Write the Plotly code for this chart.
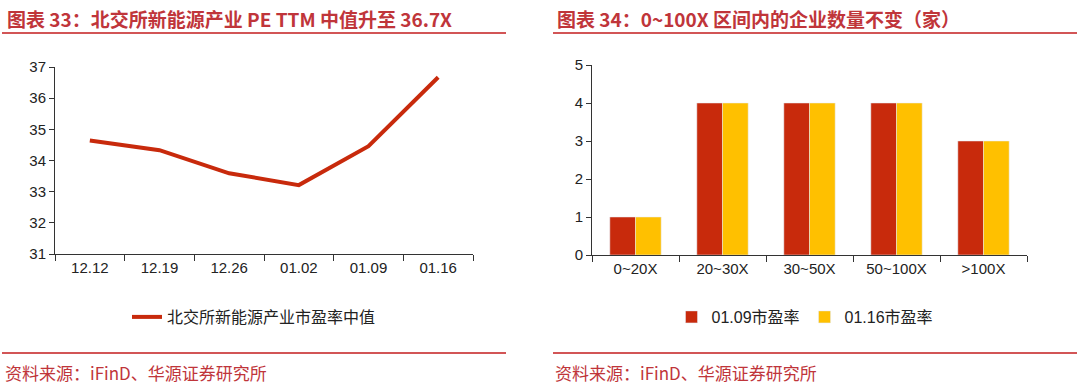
import plotly.graph_objects as go

dates = ["12.12", "12.19", "12.26", "01.02", "01.09", "01.16"]
pe_median = [34.64, 34.33, 33.59, 33.21, 34.46, 36.67]

bins = ["0~20X", "20~30X", "30~50X", "50~100X", ">100X"]
count_0109 = [1, 4, 4, 4, 3]
count_0116 = [1, 4, 4, 4, 3]

W, H = 1080, 388
RED = "#C82A0C"
YEL = "#FFC000"
TRED = "#C0353A"
LRED = "#D25556"
FONT = "Liberation Sans, Arial, Noto Sans CJK SC, sans-serif"
CJK = "Noto Sans CJK SC"

def px(x):
    return x / W

def py(y):
    return 1 - y / H

fig = go.Figure()
fig.add_trace(go.Scatter(x=dates, y=pe_median, mode="lines", name="北交所新能源产业市盈率中值",
                         line=dict(color=RED, width=4), xaxis="x", yaxis="y", legend="legend"))
fig.add_trace(go.Bar(x=bins, y=count_0109, name="01.09市盈率", marker_color=RED,
                     xaxis="x2", yaxis="y2", legend="legend2"))
fig.add_trace(go.Bar(x=bins, y=count_0116, name="01.16市盈率", marker_color=YEL,
                     xaxis="x2", yaxis="y2", legend="legend2"))

axis_common = dict(showgrid=False, zeroline=False, showline=True, linecolor="#333333", linewidth=1,
                   ticks="outside", tickcolor="#333333", automargin=False,
                   tickfont=dict(family=FONT, size=15, color="#222222"))

fig.update_layout(
    width=W, height=H, margin=dict(l=0, r=0, t=0, b=0, autoexpand=False),
    paper_bgcolor="white", plot_bgcolor="white",
    bargap=0.41, bargroupgap=0,
    xaxis=dict(domain=[px(55), px(473)], anchor="y", type="category", tickson="boundaries",
               range=[-0.5, 5.5], ticklen=6, **axis_common),
    yaxis=dict(domain=[py(254), py(67)], anchor="x", range=[31, 37], dtick=1, ticklen=5, **axis_common),
    xaxis2=dict(domain=[px(592), px(1027)], anchor="y2", type="category", tickson="boundaries",
                range=[-0.5, 4.5], ticklen=6, **axis_common),
    yaxis2=dict(domain=[py(255), py(65)], anchor="x2", range=[0, 5], dtick=1, ticklen=5, **axis_common),
    legend=dict(x=px(254), y=py(317), xanchor="center", yanchor="middle", orientation="h",
                font=dict(family=CJK, size=16, color="#222222"), bgcolor="rgba(0,0,0,0)"),
    legend2=dict(x=px(805), y=py(317), xanchor="center", yanchor="middle", orientation="h",
                 font=dict(family=FONT, size=16, color="#222222"), bgcolor="rgba(0,0,0,0)",
                 tracegroupgap=0),
    showlegend=True,
)

ann = [
    dict(text="<b>图表 33：北交所新能源产业 PE TTM 中值升至 36.7X</b>", x=px(5), y=py(18)),
    dict(text="<b>图表 34：0~100X 区间内的企业数量不变（家）</b>", x=px(555), y=py(18)),
    dict(text="资料来源：iFinD、华源证券研究所", x=px(3), y=py(372)),
    dict(text="资料来源：iFinD、华源证券研究所", x=px(553), y=py(372)),
]
for i, a in enumerate(ann):
    fig.add_annotation(text=a["text"], x=a["x"], y=a["y"], xref="paper", yref="paper",
                       xanchor="left", yanchor="middle", showarrow=False,
                       font=dict(family=CJK, size=19 if i < 2 else 17, color=TRED))

for (x0, x1) in [(2, 506), (553, 1077)]:
    for yy in (33, 353):
        fig.add_shape(type="line", xref="paper", yref="paper", x0=px(x0), x1=px(x1),
                      y0=py(yy), y1=py(yy), line=dict(color=LRED, width=2))

fig.write_html("out.html", config={"displayModeBar": False},
               post_script="document.body.style.margin='0';document.body.style.overflow='hidden';")
